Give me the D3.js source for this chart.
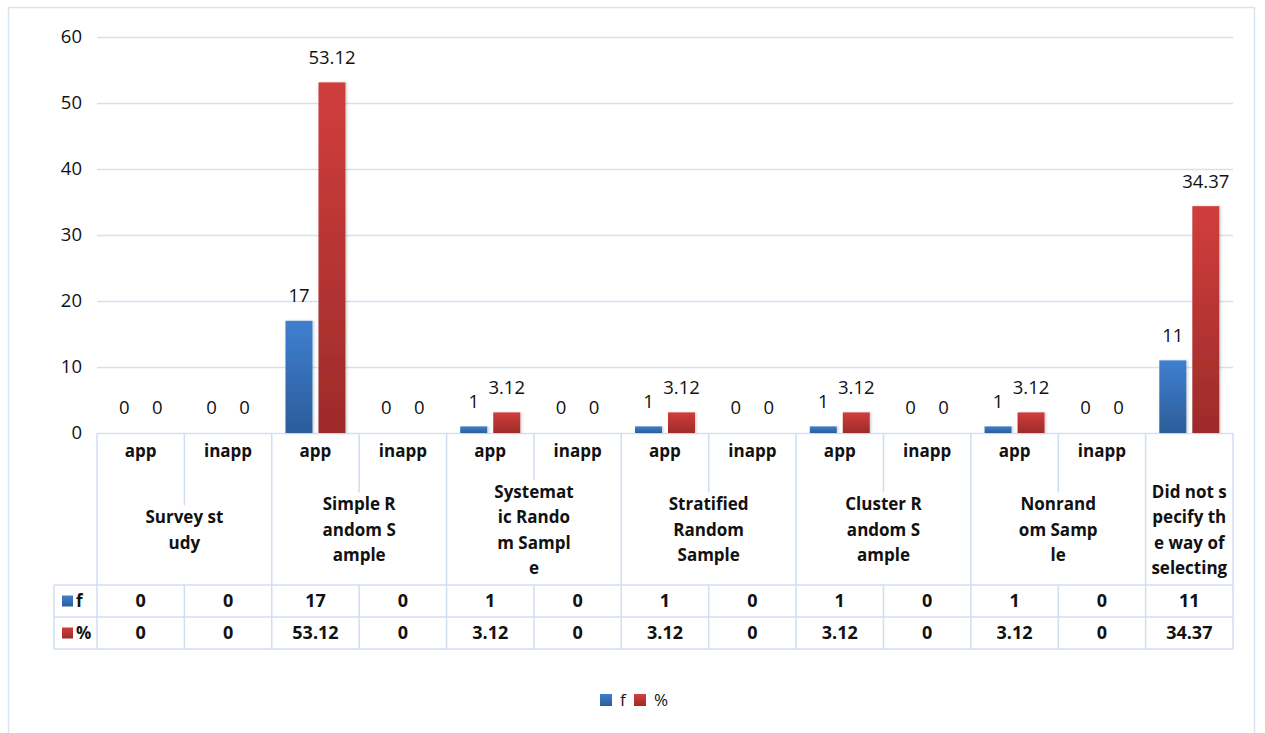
<!DOCTYPE html>
<html>
<head>
<meta charset="utf-8">
<script src="https://cdn.jsdelivr.net/npm/d3@7"></script>
<style>
  body { margin: 0; background: #fff; }
  svg { display: block; }
  text { font-family: "Open Sans", "Noto Sans", sans-serif; fill: #111; }
</style>
</head>
<body>
<svg id="chart" width="1265" height="733"></svg>
<script>
// Column sub-labels (app / inapp) for each of the 13 columns
const subLabels = ["app", "inapp", "app", "inapp", "app", "inapp", "app", "inapp", "app", "inapp", "app", "inapp", ""];
// Group labels, already broken into the lines they are drawn on
const groupLines = [
  ["Survey st", "udy"],
  ["Simple R", "andom S", "ample"],
  ["Systemat", "ic Rando", "m Sampl", "e"],
  ["Stratified", "Random", "Sample"],
  ["Cluster R", "andom S", "ample"],
  ["Nonrand", "om Samp", "le"],
  ["Did not s", "pecify th", "e way of", "selecting"]
];
// Number of columns each group spans
const groupSpans = [2, 2, 2, 2, 2, 2, 1];
const seriesNames = ["f", "%"];
const fValues   = [0, 0, 17, 0, 1, 0, 1, 0, 1, 0, 1, 0, 11];
const pctValues = [0, 0, 53.12, 0, 3.12, 0, 3.12, 0, 3.12, 0, 3.12, 0, 34.37];
const yTicks = [0, 10, 20, 30, 40, 50, 60];

const svg = d3.select("#chart");
const gridColor = "#d3e1f2";
const tableColor = "#d0def0";

// outer frame
svg.append("rect").attr("x", 8.5).attr("y", 7.5).attr("width", 1246).attr("height", 740)
  .attr("fill", "none").attr("stroke", "#d9e4f1").attr("stroke-width", 1.5);

const plotLeft = 97, plotRight = 1233, plotTop = 37, plotBottom = 433;
const colIdx = d3.range(subLabels.length);

const x = d3.scaleBand().domain(colIdx).range([plotLeft, plotRight]).paddingInner(0).paddingOuter(0);
const xs = d3.scaleBand().domain(seriesNames).range([0, x.bandwidth()]).paddingInner(0.182).paddingOuter(0.415);
const y = d3.scaleLinear().domain([0, 60]).range([plotBottom, plotTop]);

// defs: gradients
const defs = svg.append("defs");
function grad(id, top, bottom) {
  const g = defs.append("linearGradient").attr("id", id).attr("x1", 0).attr("y1", 0).attr("x2", 0).attr("y2", 1);
  g.append("stop").attr("offset", "0%").attr("stop-color", top);
  g.append("stop").attr("offset", "100%").attr("stop-color", bottom);
}
grad("gBlue", "#3f7fcf", "#2b5d9a");
grad("gRed", "#d03e3c", "#9d2b2a");
const fillFor = { "f": "url(#gBlue)", "%": "url(#gRed)" };

const shadow = defs.append("filter").attr("id", "shadow").attr("x", "-20%").attr("y", "-5%").attr("width", "150%").attr("height", "115%");
shadow.append("feDropShadow").attr("dx", 1.5).attr("dy", 0).attr("stdDeviation", 1.2).attr("flood-color", "#000").attr("flood-opacity", 0.18);

// gridlines
svg.append("g").selectAll("line").data(yTicks).join("line")
  .attr("x1", plotLeft).attr("x2", plotRight)
  .attr("y1", d => Math.round(y(d)) + 0.5).attr("y2", d => Math.round(y(d)) + 0.5)
  .attr("stroke", gridColor).attr("stroke-width", 1.5);

// y axis labels
const yAxis = d3.axisLeft(y).tickValues(yTicks).tickSize(0).tickPadding(15);
const yG = svg.append("g").attr("transform", `translate(${plotLeft},0)`).call(yAxis);
yG.select(".domain").remove();
yG.selectAll("text").attr("font-size", 18.5).attr("font-family", "'Open Sans', sans-serif").attr("fill", "#111");

// bars
const seriesData = { "f": fValues, "%": pctValues };
const rows = [];
colIdx.forEach(i => seriesNames.forEach(s => rows.push({ i, s, v: seriesData[s][i] })));

svg.append("g").selectAll("rect").data(rows.filter(d => d.v > 0)).join("rect")
  .attr("x", d => x(d.i) + xs(d.s))
  .attr("width", xs.bandwidth())
  .attr("y", d => y(d.v))
  .attr("height", d => y(0) - y(d.v))
  .attr("fill", d => fillFor[d.s])
  .attr("filter", "url(#shadow)");

// value labels
svg.append("g").selectAll("text").data(rows).join("text")
  .attr("x", d => x(d.i) + xs(d.s) + xs.bandwidth() / 2)
  .attr("y", d => y(d.v) - 25)
  .attr("dy", "0.35em")
  .attr("text-anchor", "middle")
  .attr("font-size", 18.5)
  .text(d => d.v);

// ---- data table below the plot ----
const tableLeft = 54;
const headTop = plotBottom, rowF = 585, rowP = 617, tableBottom = 649;
const lines = svg.append("g").attr("stroke", tableColor).attr("stroke-width", 1.5).attr("fill", "none");

// group boundaries
let cum = 0;
const groupStarts = groupSpans.map(s => { const st = cum; cum += s; return st; });
const groupFirstLine = groupLines.map(gl => 530 - (gl.length - 1) * 25.5 / 2);

// left and right borders of header area
lines.append("line").attr("x1", plotLeft).attr("x2", plotLeft).attr("y1", headTop).attr("y2", tableBottom);
lines.append("line").attr("x1", plotRight).attr("x2", plotRight).attr("y1", headTop).attr("y2", tableBottom);
lines.append("line").attr("x1", tableLeft).attr("x2", tableLeft).attr("y1", rowF).attr("y2", tableBottom);

groupStarts.forEach((st, g) => {
  if (st > 0) {
    const xx = x(st);
    lines.append("line").attr("x1", xx).attr("x2", xx).attr("y1", headTop).attr("y2", tableBottom);
  }
  // inner app/inapp divider stops above the group label
  for (let k = 1; k < groupSpans[g]; k++) {
    const xx = x(st + k);
    lines.append("line").attr("x1", xx).attr("x2", xx).attr("y1", headTop).attr("y2", groupFirstLine[g] - 12);
    lines.append("line").attr("x1", xx).attr("x2", xx).attr("y1", rowF).attr("y2", tableBottom);
  }
});
[rowF, rowP, tableBottom].forEach(yy => {
  lines.append("line").attr("x1", tableLeft).attr("x2", plotRight).attr("y1", yy).attr("y2", yy);
});

// sub labels
svg.append("g").selectAll("text").data(colIdx).join("text")
  .attr("x", i => x(i) + x.bandwidth() / 2)
  .attr("y", 451).attr("dy", "0.35em")
  .attr("text-anchor", "middle").attr("font-size", 17).attr("font-weight", "bold")
  .text(i => subLabels[i]);

// group labels
groupLines.forEach((gl, g) => {
  const cx = x(groupStarts[g]) + groupSpans[g] * x.bandwidth() / 2;
  svg.append("text").attr("text-anchor", "middle").attr("font-size", 17).attr("font-weight", "bold")
    .selectAll("tspan").data(gl).join("tspan")
    .attr("x", cx).attr("y", (d, k) => groupFirstLine[g] + k * 25.5).attr("dy", "0.35em")
    .text(d => d);
});

// value rows
const tableRows = [{ s: "f", vals: fValues, yc: (rowF + rowP) / 2 }, { s: "%", vals: pctValues, yc: (rowP + tableBottom) / 2 }];
tableRows.forEach(r => {
  svg.append("g").selectAll("text").data(r.vals).join("text")
    .attr("x", (d, i) => x(i) + x.bandwidth() / 2)
    .attr("y", r.yc).attr("dy", "0.35em")
    .attr("text-anchor", "middle").attr("font-size", 18).attr("font-weight", "bold")
    .text(d => d);
  svg.append("rect").attr("x", 62).attr("y", r.yc - 5.5).attr("width", 11).attr("height", 11).attr("fill", fillFor[r.s]);
  svg.append("text").attr("x", 76).attr("y", r.yc).attr("dy", "0.35em")
    .attr("font-size", 17).attr("font-weight", "bold").text(r.s);
});

// legend
const legend = svg.append("g").attr("transform", "translate(600,700)");
const legItems = [{ s: "f", x: 0 }, { s: "%", x: 34 }];
legItems.forEach(it => {
  legend.append("rect").attr("x", it.x).attr("y", -6).attr("width", 12).attr("height", 12).attr("fill", fillFor[it.s]);
  legend.append("text").attr("x", it.x + 20).attr("y", 0).attr("dy", "0.35em").attr("font-size", 17).text(it.s);
});
</script>
</body>
</html>
